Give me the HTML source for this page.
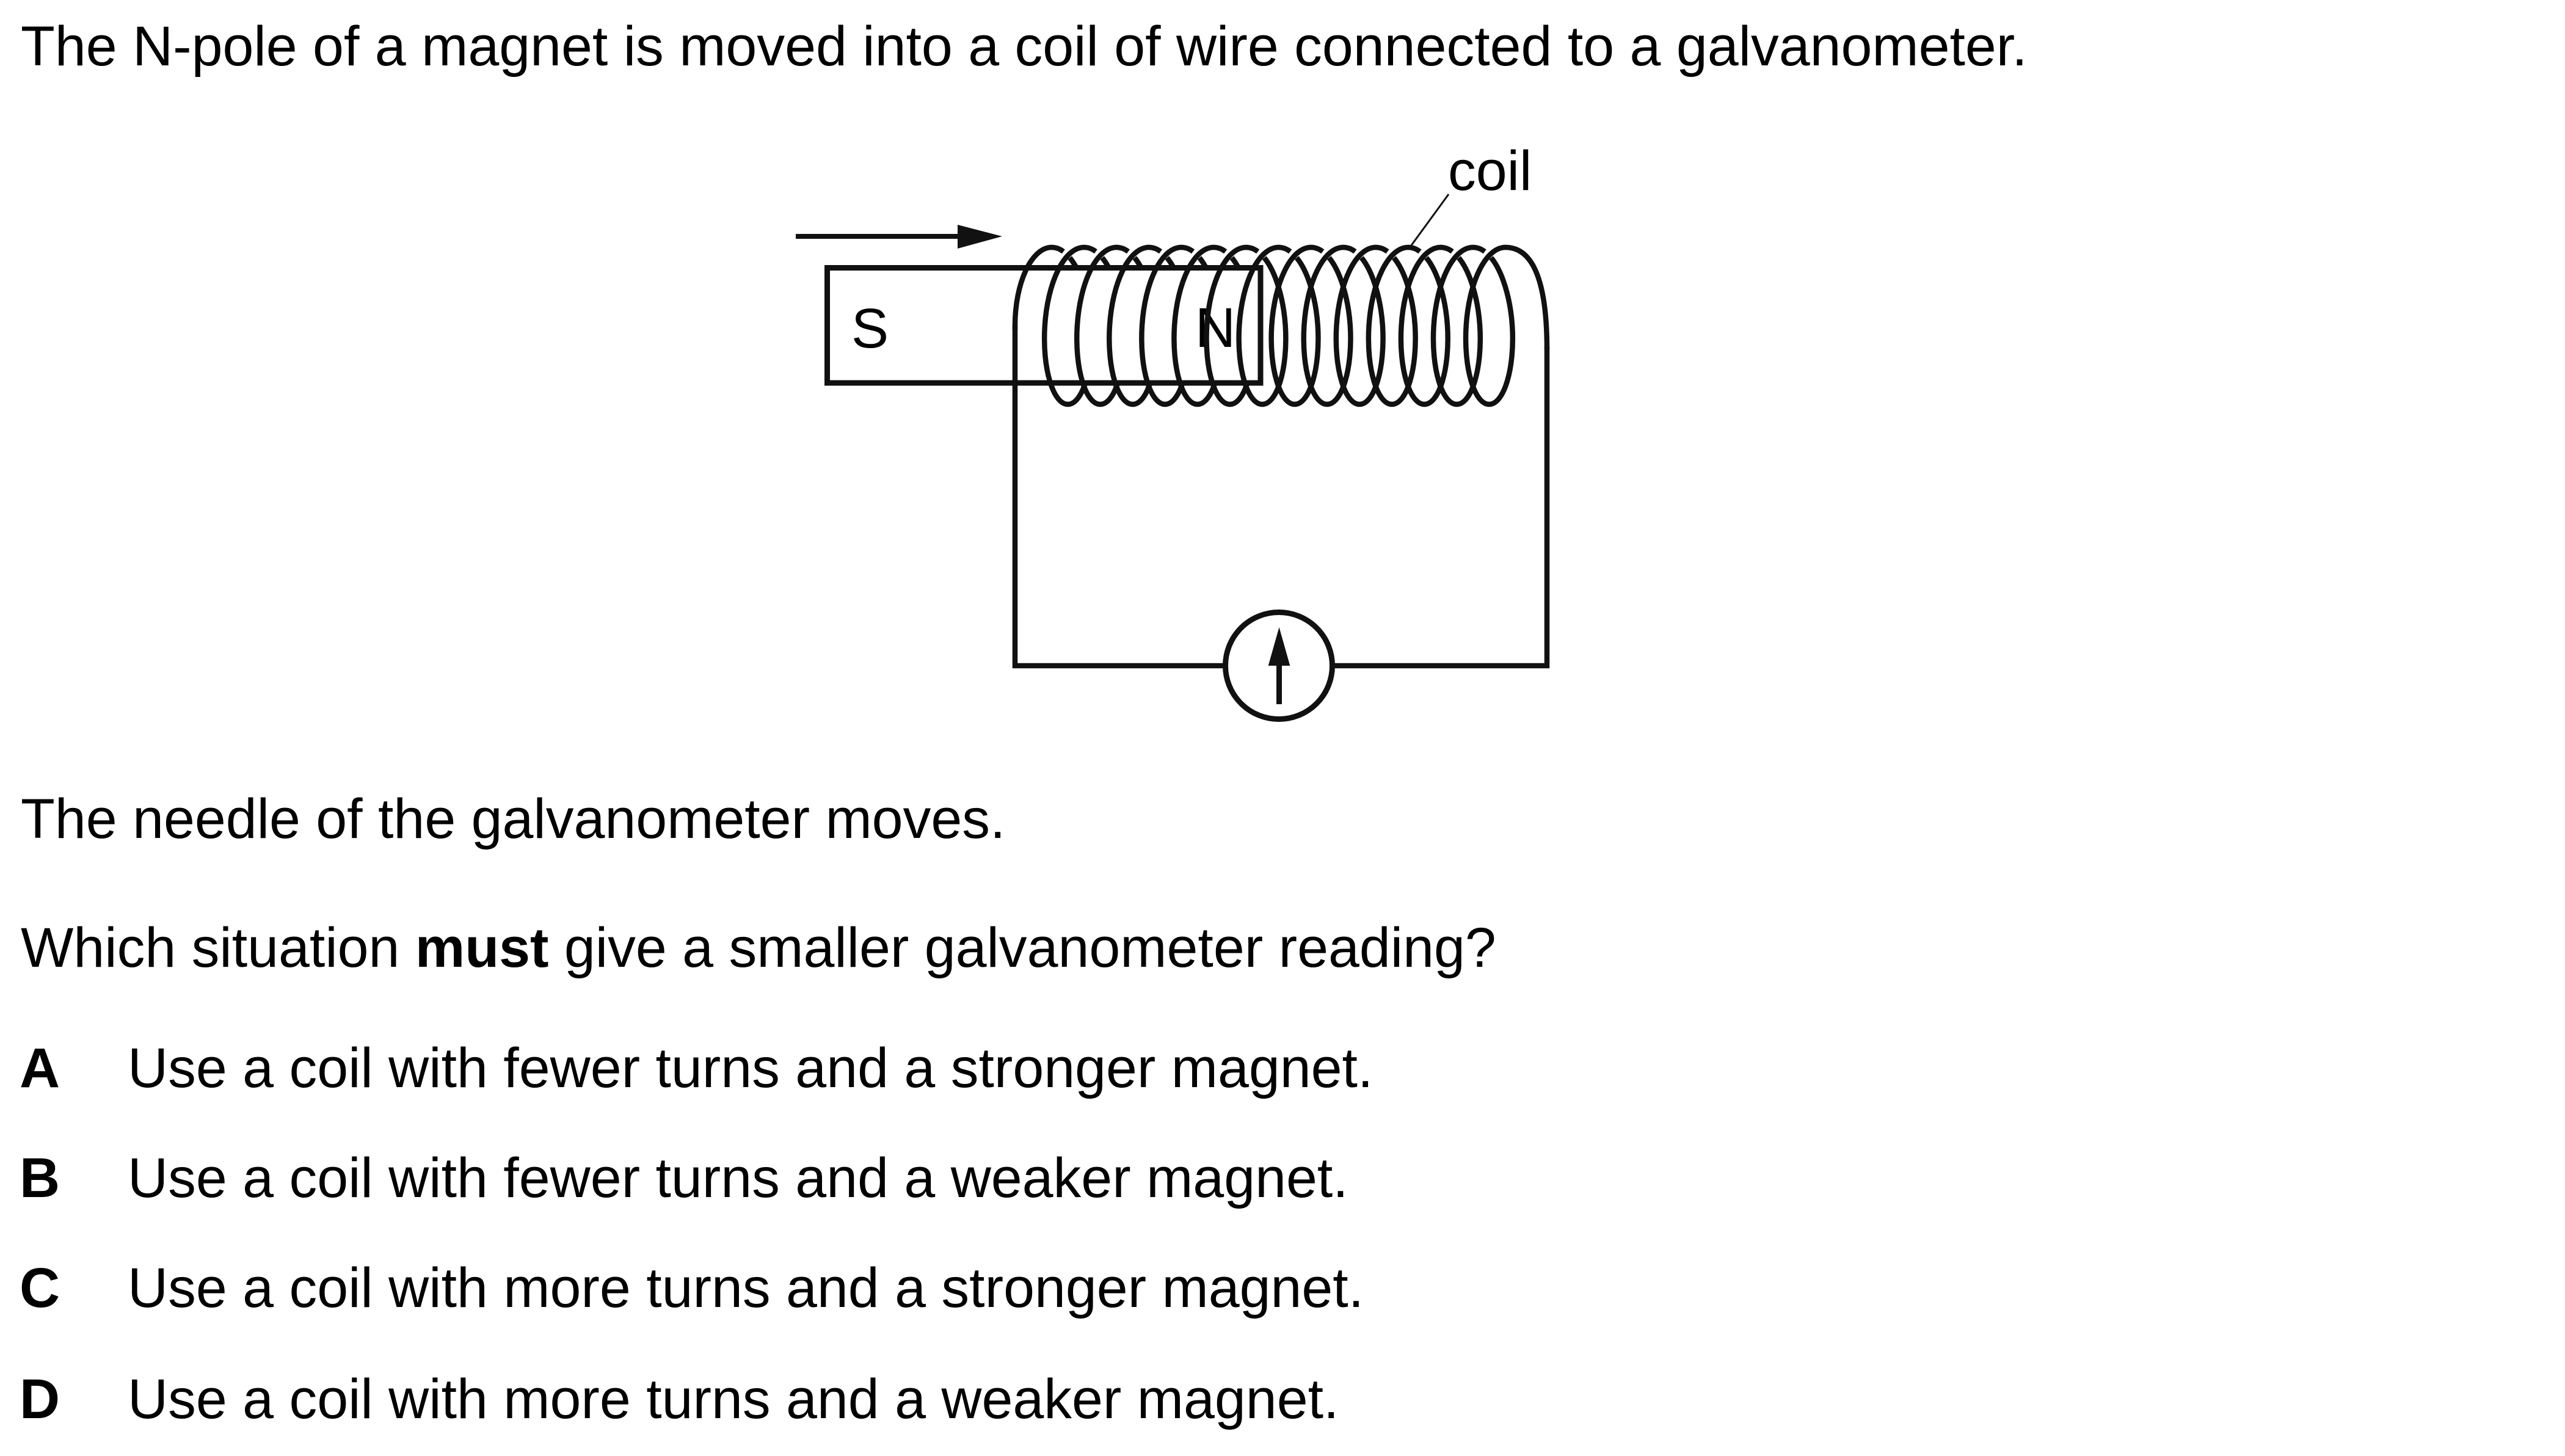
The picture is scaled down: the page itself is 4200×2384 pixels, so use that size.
<!DOCTYPE html>
<html>
<head>
<meta charset="utf-8">
<style>
  html,body{margin:0;padding:0;background:#fff;}
  body{width:4200px;height:2384px;overflow:hidden;}
  svg{display:block;}
  text{font-family:"Liberation Sans",Arial,Helvetica,sans-serif;font-size:91.5px;fill:#000;}
  .b{font-weight:bold;}
</style>
</head>
<body>
<svg width="4200" height="2384" viewBox="0 0 4200 2384" xmlns="http://www.w3.org/2000/svg">
  <defs>
    <path id="bk" d="M29.7,-111.5 C48.2,-89.1 61.3,-45 64.3,0 C68.7,71 50.3,128.5 26.5,128.5"/>
    <path id="fr" d="M26.5,128.5 C2.8,128.5 -15.6,71 -11.2,0 C-6.8,-71 20.5,-128.5 53.07,-128.5"/>
    <path id="ta" d="M0,-128.5 C6.54,-128.5 13.16,-126.2 19.3,-121.6"/>
  </defs>

  <!-- Text -->
  <text x="34" y="107">The N-pole of a magnet is moved into a coil of wire connected to a galvanometer.</text>
  <text x="34" y="1372">The needle of the galvanometer moves.</text>
  <text x="34" y="1583">Which situation <tspan class="b">must</tspan> give a smaller galvanometer reading?</text>
  <text x="32" y="1780" class="b">A</text>
  <text x="209" y="1780">Use a coil with fewer turns and a stronger magnet.</text>
  <text x="32" y="1960" class="b">B</text>
  <text x="209" y="1960">Use a coil with fewer turns and a weaker magnet.</text>
  <text x="32" y="2140" class="b">C</text>
  <text x="209" y="2140">Use a coil with more turns and a stronger magnet.</text>
  <text x="32" y="2322" class="b">D</text>
  <text x="209" y="2322">Use a coil with more turns and a weaker magnet.</text>

  <!-- coil label -->
  <text x="2371" y="311">coil</text>
  <line x1="2372" y1="318" x2="2310" y2="403" stroke="#111" stroke-width="3"/>

  <!-- movement arrow -->
  <line x1="1303" y1="387" x2="1572" y2="387" stroke="#111" stroke-width="8"/>
  <polygon points="1568,368 1641,387 1568,407" fill="#111"/>

  <!-- back strands (behind magnet) -->
  <g fill="none" stroke="#111" stroke-width="8.5" stroke-linecap="butt">
    <use href="#bk" x="1722" y="533.5"/>
    <use href="#bk" x="1775.07" y="533.5"/>
    <use href="#bk" x="1828.14" y="533.5"/>
    <use href="#bk" x="1881.21" y="533.5"/>
    <use href="#bk" x="1934.28" y="533.5"/>
    <use href="#bk" x="1987.35" y="533.5"/>
    <use href="#bk" x="2040.42" y="533.5"/>
    <use href="#bk" x="2093.49" y="533.5"/>
    <use href="#bk" x="2146.56" y="533.5"/>
    <use href="#bk" x="2199.63" y="533.5"/>
    <use href="#bk" x="2252.7" y="533.5"/>
    <use href="#bk" x="2305.77" y="533.5"/>
    <use href="#bk" x="2358.84" y="533.5"/>
    <use href="#bk" x="2411.91" y="533.5"/>
  </g>

  <!-- magnet -->
  <rect x="1354.5" y="438.5" width="709.5" height="188.5" fill="#fff" stroke="#111" stroke-width="9"/>
  <text x="1394" y="569">S</text>
  <text x="1957" y="568">N</text>

  <!-- circuit wires -->
  <path d="M1662,533.5 L1662,1090 L2533,1090 L2533,568" fill="none" stroke="#111" stroke-width="8.5" stroke-linejoin="miter"/>

  <!-- front strands -->
  <g fill="none" stroke="#111" stroke-width="8.5" stroke-linecap="round">
    <path d="M1662,540 L1662,533.5 C1662,462.5 1689.4,405 1722,405"/>
    <use href="#fr" x="1722" y="533.5"/>
    <use href="#fr" x="1775.07" y="533.5"/>
    <use href="#fr" x="1828.14" y="533.5"/>
    <use href="#fr" x="1881.21" y="533.5"/>
    <use href="#fr" x="1934.28" y="533.5"/>
    <use href="#fr" x="1987.35" y="533.5"/>
    <use href="#fr" x="2040.42" y="533.5"/>
    <use href="#fr" x="2093.49" y="533.5"/>
    <use href="#fr" x="2146.56" y="533.5"/>
    <use href="#fr" x="2199.63" y="533.5"/>
    <use href="#fr" x="2252.7" y="533.5"/>
    <use href="#fr" x="2305.77" y="533.5"/>
    <use href="#fr" x="2358.84" y="533.5"/>
    <use href="#fr" x="2411.91" y="533.5"/>
    <path d="M2464.98,405 C2510,405 2533,460 2533,572"/>
  </g>
  <g fill="none" stroke="#111" stroke-width="8.5" stroke-linecap="butt">
    <use href="#ta" x="1722" y="533.5"/>
    <use href="#ta" x="1775.07" y="533.5"/>
    <use href="#ta" x="1828.14" y="533.5"/>
    <use href="#ta" x="1881.21" y="533.5"/>
    <use href="#ta" x="1934.28" y="533.5"/>
    <use href="#ta" x="1987.35" y="533.5"/>
    <use href="#ta" x="2040.42" y="533.5"/>
    <use href="#ta" x="2093.49" y="533.5"/>
    <use href="#ta" x="2146.56" y="533.5"/>
    <use href="#ta" x="2199.63" y="533.5"/>
    <use href="#ta" x="2252.7" y="533.5"/>
    <use href="#ta" x="2305.77" y="533.5"/>
    <use href="#ta" x="2358.84" y="533.5"/>
    <use href="#ta" x="2411.91" y="533.5"/>
  </g>

  <!-- galvanometer -->
  <circle cx="2094" cy="1090" r="87.5" fill="#fff" stroke="#111" stroke-width="9"/>
  <line x1="2094.5" y1="1153" x2="2094.5" y2="1080" stroke="#111" stroke-width="9"/>
  <polygon points="2094.5,1027 2076.7,1090 2112.3,1090" fill="#111"/>
</svg>
</body>
</html>
